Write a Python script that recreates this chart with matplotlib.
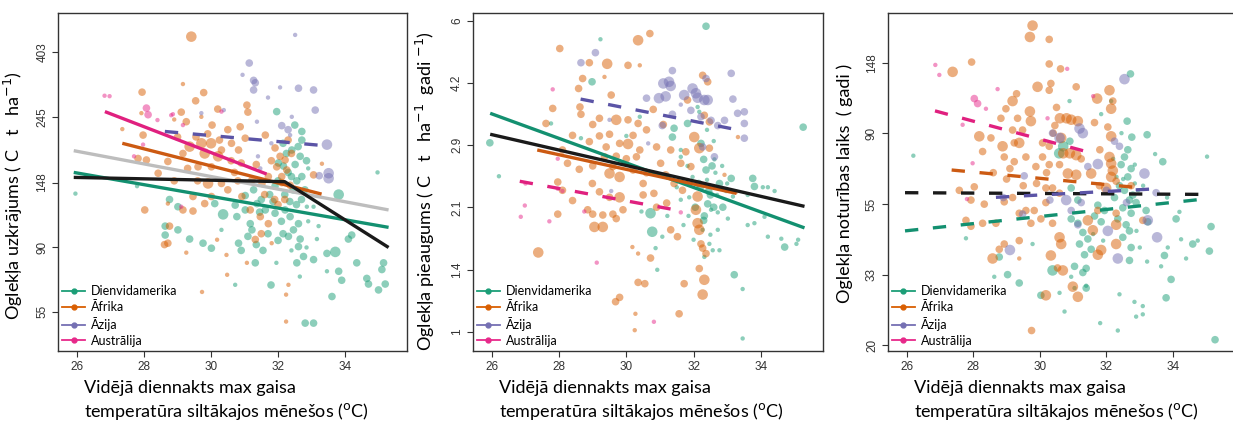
import numpy as np
import matplotlib.pyplot as plt
from matplotlib.lines import Line2D

# region colours (Dark2)
c_sam = "#1b9e77"
c_afr = "#d95f02"
c_asia = "#7570b3"
c_aus = "#e7298a"

regions = ["Dienvidamerika", "Āfrika", "Āzija", "Austrālija"]
xticks = [26, 28, 30, 32, 34]

# ---- panel 1: carbon stock, (temp, stock, size class)
p1_sam = [(25.95,136,1),(27.79,144,1),(28.76,130,2),(29.01,123,2),(28.63,106,2),(28.63,99,2),(29.01,103,2),
          (29.36,96,2),(29.76,93,2),(30.01,89.5,2),(30.11,126,2),(30.36,116,3),(30.31,103,1),
          (31.96,255,2),(32.71,219,2),(32.71,205,2),(32.41,190,2),(32.66,181,2),(32.51,170,2),(32.71,155,2),
          (32.56,150,2),(32.01,172,2),(32.16,168,2),(31.91,144,2),(31.27,140,2),(31.02,134,2),(30.72,124.5,2),
          (30.77,114,2),(31.02,120,2),(31.37,126,2),(31.62,120,2),(31.91,117,2),(32.21,120,2),(32.36,114,2),
          (32.61,108,2),(32.46,103,2),(32.31,98,2),(32.66,96,2),(32.61,90.6,2),(32.76,84,2),(32.56,80,2),
          (33.06,82,2),(33.21,106,1),(33.16,96,1),(32.86,123,1),(33.06,123,1),(33.46,86,2),(33.71,87,3),
          (33.81,135,3),(34.10,96,2),(34.20,99,2),(34.35,80,2),(34.65,71,2),(34.70,68,2),(35.00,65,2),
          (35.20,68,2),(35.15,80,2),(35.10,76,2),(34.97,160,1),(33.61,61.8,2),(33.81,75,2),(33.90,70,2),
          (33.46,75,1),(32.81,50.4,2),(33.06,50.4,2),(31.79,67.5,2),(30.72,67.6,1),(31.32,80,2),(31.17,108,2),
          (31.22,103,2),(30.82,93,2),(32.2,135,2),(32.35,128,2),(32.1,110,2),(32.45,140,2),(32.3,160,2),
          (32.55,125,2),(31.5,130,2),(31.7,100,2),(32.0,95,2),(31.1,98,2),(32.8,140,2),(32.9,165,1),
          (32.4,88,1),(30.9,88,2),(31.35,92,2),(32.15,200,2),(32.5,230,2),(32.25,185,2),(32.6,195,2),
          (32.85,175,2),(32.4,155,2),(32.0,150,2),(31.75,135,2),(31.45,118,2),(31.85,128,2),(32.7,130,2),
          (32.9,110,1),(32.15,100,2),(31.55,88,2),(32.65,72,1),(32.85,90,1),(31.95,80,1)]
p1_afr = [(29.41,453,3),(29.16,315,1),(29.78,295,2),(27.94,296,2),(29.54,277,2),(27.35,223,1),(27.92,252,1),
          (29.11,254,2),(29.26,236,2),(29.71,245,1),(30.03,230,2),(27.97,213,2),(27.82,178,2),(28.07,176,2),
          (28.42,159,2),(28.71,174,2),(29.16,185,2),(29.36,195,3),(29.71,200,3),(29.81,185,3),(29.61,167,2),
          (30.01,167,2),(30.21,181,3),(29.91,147,3),(30.31,147,2),(30.01,133,2),(29.46,133,2),(29.16,120,2),
          (29.46,119,2),(29.81,126,2),(28.71,126,1),(28.02,120,2),(28.76,106,2),(28.71,93,2),(28.61,92,2),
          (29.26,86.5,1),(30.18,95.5,1),(30.46,85,1),(30.48,73,1),(29.73,64,1),(30.31,190,2),(30.50,222,2),
          (30.61,200,2),(31.07,268,2),(31.10,254,2),(30.87,227,2),(31.02,208,2),(30.82,190,2),(31.62,213,2),
          (31.91,193,2),(32.06,181,2),(32.21,176,2),(32.26,163,2),(31.96,167,2),(32.11,155,2),(31.71,155,2),
          (31.52,147,2),(31.22,151,2),(30.92,133,2),(31.17,120,2),(31.47,114,2),(31.71,108,2),(31.32,95.7,2),
          (31.81,93,1),(31.07,80,1),(32.31,67.6,1),(32.24,62.7,1),(32.24,51,1),(33.06,157,2),(33.31,171,1),
          (32.11,148,2),(32.36,145,2),(32.2,130,2),(31.6,135,2),(32.0,125,2),(30.7,160,2),(30.5,140,2),
          (30.9,172,2),(29.0,210,2),(28.9,240,1),(30.2,260,2),(30.0,200,3),(29.55,210,2),(29.9,215,2),
          (30.25,205,2),(29.3,165,2),(28.9,150,2),(29.6,150,2),(30.6,175,2),(30.8,150,2),(31.35,170,2),
          (31.8,175,2),(32.4,185,2),(32.3,205,2),(31.9,130,2),(31.5,100,2)]
p1_asia = [(30.38,258,1),(29.71,252,1),(32.51,459,1),(31.14,370,2),(30.94,338,1),(31.27,324,2),(31.32,318,2),
           (31.27,301,2),(31.70,284,1),(32.06,307,1),(32.61,305,2),(33.06,301,2),(33.11,258,2),(31.37,236,1),
           (32.11,229,2),(32.36,213,1),(33.46,198,3),(33.51,159,3),(33.51,153,3),(33.23,156,2),(31.40,181,1),
           (31.47,165,1),(32.41,245,1),(32.3,222,2),(31.8,200,1)]
p1_aus = [(26.82,288,1),(26.97,287,1),(28.07,262,2),(28.12,249,2),(28.40,239,1),(28.81,248,1),(28.86,250,1),
          (29.16,230,1),(27.70,181,1),(27.97,198,1),(29.11,123,1),(30.31,255,1)]

# fitted lines: (x, y, colour, dashed)
p1_lines = [([28.62, 33.25], [219, 197], "#5b54a6", True),
            ([25.9, 35.3], [189, 120], "#bdbdbd", False),
            ([25.9, 35.3], [160, 105], "#139070", False),
            ([27.35, 33.3], [200, 135.5], "#cc5a12", False),
            ([26.83, 31.66], [255, 158], "#e0207f", False),
            ([25.9, 32.2, 35.3], [154, 149, 90], "#1a1a1a", False)]
p1_ticks = [55, 90, 148, 245, 403]
p1_ticklabels = ["55", "90", "148", "245", "403"]

# ---- panel 2: carbon growth
p2_sam = [(25.94,2.97,2),(26.21,2.45,1),(29.23,5.39,1),(28.98,4.22,2),(27.76,3.32,1),(28.65,3.05,1),(30.0,3.09,1),
          (30.4,3.45,1),(30.45,2.0,1),(32.37,5.81,2),(35.26,3.25,2),(31.82,3.32,2),(31.42,3.23,2),(31.37,3.07,2),
          (32.12,3.65,1),(32.17,3.55,1),(31.62,2.85,1),(32.22,2.96,2),(32.62,2.7,1),(32.37,2.54,2),(32.77,2.35,2),
          (32.97,2.25,1),(33.12,2.42,2),(33.17,2.18,1),(33.76,2.42,2),(33.81,2.31,2),(33.61,2.2,1),(34.06,2.3,1),
          (34.21,2.3,1),(34.41,2.25,1),(34.11,1.94,1),(33.61,1.85,1),(33.81,1.87,1),(34.21,1.73,1),(34.61,1.71,1),
          (34.71,1.63,2),(35.11,1.70,1),(35.06,1.66,1),(30.77,1.78,3),(30.72,1.98,3),(31.22,1.95,1),(31.07,1.73,1),
          (30.87,1.62,1),(30.92,1.43,1),(32.32,1.95,2),(32.42,2.09,2),(32.27,1.80,1),(32.47,1.66,1),(32.32,1.54,1),
          (32.52,2.02,1),(32.72,1.99,1),(32.87,2.05,2),(32.72,1.80,1),(32.57,1.60,1),(32.77,1.60,1),(33.21,1.39,2),
          (33.46,1.28,1),(33.46,0.963,1),(33.02,1.92,1),(31.62,2.74,1),(31.82,2.6,1),(31.62,2.14,1),(31.87,2.17,1),
          (31.97,2.44,1),(32.2,2.3,2),(32.5,2.2,2),(32.05,2.05,2),(31.5,2.3,1),(32.4,2.4,1),(32.65,2.5,1),
          (32.3,2.7,2),(32.55,2.6,2),(32.15,2.35,2),(32.45,2.25,2),(32.6,2.05,2),(32.3,1.9,2),(32.5,1.75,1),
          (32.7,2.2,1),(32.85,2.6,1),(33.0,2.35,1),(31.85,1.95,1),(31.7,1.85,1),(32.0,1.7,1),(32.4,3.2,1),
          (32.6,3.0,1)]
p2_afr = [(28.02,5.11,2),(28.90,4.71,2),(29.43,4.68,3),(30.05,4.64,2),(30.35,5.36,3),(30.40,4.64,1),(28.70,4.30,2),
          (29.35,4.34,1),(28.58,4.06,2),(29.55,3.91,2),(27.81,3.62,2),(28.62,3.65,2),(27.61,3.32,2),(28.65,3.50,2),
          (29.20,3.42,2),(29.70,3.39,3),(30.05,3.39,2),(30.35,3.32,2),(28.90,2.99,2),(29.20,3.09,2),(29.50,3.12,2),
          (29.80,2.96,2),(30.05,2.95,3),(30.40,2.85,2),(29.35,2.74,2),(29.60,2.59,2),(30.00,2.71,2),(30.30,2.74,2),
          (28.10,2.85,2),(28.25,2.64,2),(29.50,2.49,3),(29.80,2.44,3),(30.20,2.54,2),(28.99,2.35,2),(29.20,2.24,2),
          (29.50,2.17,2),(29.80,2.17,3),(29.90,2.02,2),(29.60,1.97,2),(27.96,2.37,2),(28.10,2.26,2),(28.40,2.13,2),
          (28.85,2.02,2),(29.00,1.97,2),(29.30,1.96,2),(29.70,1.92,2),(27.96,1.97,2),(29.05,1.83,3),(29.30,1.83,3),
          (27.38,1.58,3),(30.18,1.63,1),(30.35,1.57,1),(30.35,1.33,2),(30.55,1.32,2),(29.80,1.22,2),(29.68,1.19,2),
          (30.27,1.11,1),(30.25,1.01,1),(30.70,5.57,2),(32.27,4.38,2),(32.42,4.22,2),(31.82,3.80,2),(32.32,3.48,2),
          (32.47,3.35,2),(32.02,3.07,3),(32.17,2.88,3),(32.47,2.88,2),(31.77,2.82,2),(31.32,2.85,2),(31.02,2.64,2),
          (31.62,2.64,2),(31.17,2.47,2),(31.42,2.35,2),(31.67,2.26,2),(30.82,2.22,2),(31.92,2.59,2),(32.12,2.18,3),
          (32.07,2.02,3),(32.12,1.87,3),(32.17,1.80,3),(32.22,1.66,2),(32.27,1.62,2),(32.37,1.57,2),(32.17,1.44,2),
          (32.32,1.35,3),(32.27,1.24,3),(31.72,1.32,2),(31.57,1.11,2),(31.52,1.73,2),(31.32,1.80,2),(30.72,1.53,2),
          (33.27,2.24,1),(33.32,3.07,1),(32.92,2.47,1),(30.6,2.5,2),(30.9,2.9,2),(31.1,3.3,2),(30.8,3.6,2),
          (30.5,2.2,2),(30.9,2.05,2),(29.0,3.3,2),(29.4,2.9,2),(30.2,3.1,2),(30.6,3.2,2),(28.6,2.55,2),
          (29.0,2.6,2),(30.5,2.35,2),(31.2,2.1,2),(29.7,2.75,2),(28.4,3.1,2)]
p2_asia = [(29.08,4.99,2),(28.65,4.71,2),(30.60,3.84,2),(29.50,3.39,1),(29.55,2.25,1),(30.65,2.96,1),(31.37,4.50,2),
           (31.10,4.18,3),(31.27,4.22,3),(31.32,4.12,3),(30.97,3.84,3),(31.17,3.88,3),(31.97,4.06,3),(32.07,3.95,3),
           (32.12,3.85,3),(32.32,3.80,3),(32.42,3.80,3),(31.72,3.91,3),(33.12,4.43,2),(32.37,4.30,2),(33.17,3.82,2),
           (33.31,3.52,2),(33.51,3.55,2),(33.51,3.32,2),(33.51,3.05,2),(32.22,3.45,2),(32.52,3.38,2),(32.72,3.28,2),
           (32.92,3.38,2),(31.92,3.58,2),(31.37,3.50,2),(31.07,3.28,2),(32.62,2.74,2),(32.27,2.90,2),(31.62,3.70,1)]
p2_aus = [(27.81,4.04,1),(27.96,2.71,1),(26.98,2.07,1),(26.86,1.94,1),(27.71,1.89,1),(27.96,2.28,1),(28.75,2.00,1),
          (29.12,1.49,1),(28.1,2.25,1),(30.82,1.06,1),(31.62,1.99,1),(27.0,2.35,1)]

p2_lines = [([28.64, 33.23], [3.82, 3.21], "#5b54a6", True),
            ([26.83, 31.44], [2.38, 2.02], "#e0207f", True),
            ([25.95, 35.3], [3.52, 1.82], "#139070", False),
            ([27.35, 33.28], [2.85, 2.22], "#cc5a12", False),
            ([25.95, 35.3], [3.12, 2.06], "#1a1a1a", False)]
p2_ticks = [1.0, 1.431, 2.048, 2.93, 4.193, 6.0]
p2_ticklabels = ["1", "1.4", "2.1", "2.9", "4.2", "6"]

# ---- panel 3: residence time
p3_sam = [(26.20,76.7,1),(27.78,42.7,1),(29.78,41,1),(28.78,37.4,2),(28.63,32.5,1),(29.03,33,2),(29.38,31.1,2),
          (30.03,28.5,2),(30.38,34,3),(30.58,78,3),(30.7,82,3),(30.9,85,2),(32.72,137,2),(30.89,113,1),
          (31.84,103,1),(32.62,98,2),(33.22,89,2),(33.46,77.6,1),(33.69,73.5,2),(35.02,76.2,1),(32.76,87.5,2),
          (32.64,80,2),(32.54,76,2),(32.44,72,2),(32.74,70,2),(32.64,66,2),(32.39,62,2),(32.54,60,2),(32.24,57,2),
          (32.69,56,2),(32.49,53,2),(32.74,51,2),(32.34,49,2),(32.59,47,2),(32.69,45,2),(32.49,43,2),(32.74,40,2),
          (32.69,36.5,2),(30.94,61,2),(31.14,56,2),(30.94,49,2),(31.14,47.5,2),(31.29,44.5,2),(31.44,42.5,2),
          (31.19,41,2),(31.54,39.5,2),(31.34,38,2),(31.39,34.5,2),(31.29,33.5,2),(31.39,30,2),(31.04,35,2),
          (31.74,54,2),(31.94,52,2),(31.84,48,2),(31.64,50,2),(32.89,55,2),(33.19,52,2),(33.24,48,2),(32.79,58,2),
          (33.74,37.8,2),(33.94,31.9,2),(33.79,28,2),(33.22,36.2,1),(33.64,35,1),(34.19,51.5,1),(34.09,49,2),
          (34.24,42.4,1),(34.39,37,1),(34.59,41,2),(34.74,42,1),(35.09,39,2),(35.14,46.4,2),(35.26,20.8,2),
          (33.84,40,1),(32.84,27.2,1),(32.39,28.7,1),(33.09,26.4,1),(33.09,24.9,1),(32.89,24.5,1),(32.34,22.2,1),
          (31.81,23.4,1),(30.74,25.4,1),(31.04,30,1),(31.39,30.5,1),(30.59,29,1),(30.94,32.5,1),(33.82,57,1),
          (32.14,113,1),(32.3,66,1),(32.85,63,1),(32.95,60,1),(32.5,65,1),(32.2,75,1),(32.45,90,1),(32.85,72,1),
          (33.1,62,1),(31.6,44,1),(31.9,42,1),(32.9,45,1),(33.0,40,1)]
p3_afr = [(29.78,193,3),(29.70,178,3),(30.28,175,2),(27.38,139,3),(27.95,149,2),(30.28,147,2),(30.33,128,2),
          (29.93,125,3),(29.30,119,2),(29.18,113,3),(28.98,107,2),(28.83,100,2),(29.70,105,3),(29.73,98,3),
          (30.28,122,2),(28.18,88,3),(28.53,87,2),(28.88,82,3),(29.33,100,2),(29.18,92,2),(29.48,92,2),(29.38,84,3),
          (30.08,84,2),(30.28,82,2),(28.28,79,2),(29.23,84,2),(28.93,76,2),(29.23,73.5,2),(29.58,76,2),(29.88,71,2),
          (30.08,76,2),(30.28,72,2),(28.03,61.5,2),(28.33,54.4,2),(28.93,55.3,2),(29.18,57,2),(29.38,51,2),
          (29.58,52,2),(29.83,52,2),(30.18,55,2),(29.73,47.5,2),(30.03,49,2),(30.38,47.5,2),(27.78,48.5,2),
          (27.93,46.5,2),(28.28,47.5,2),(28.68,47.5,2),(28.93,41,2),(28.78,39.5,2),(29.38,42,2),(28.58,37,3),
          (29.38,37,1),(30.33,37.8,3),(30.53,34.6,2),(30.18,28.5,3),(29.75,22.2,2),(27.93,56,2),(27.58,60,2),
          (30.18,61,2),(30.38,61,2),(30.62,142,2),(31.09,125,2),(31.72,115,3),(32.09,122,3),(32.19,113,2),
          (32.14,107,3),(30.60,100,3),(30.80,100,3),(30.94,99,3),(31.14,98,3),(31.64,97,2),(32.04,94,2),(32.14,88,3),
          (30.64,87,3),(30.70,78,3),(30.90,78,3),(31.09,77,3),(31.24,75,2),(30.59,72,2),(30.84,67.6,3),(31.09,67,3),
          (31.54,67.6,3),(32.09,76,3),(32.14,72.5,3),(32.19,69,3),(32.14,66,3),(31.79,62,2),(31.99,61,3),
          (32.29,64,2),(32.74,62,2),(30.59,58.8,2),(31.74,52,2),(32.29,51,2),(31.44,48.5,3),(31.59,45.2,3),
          (31.84,39.3,3),(31.74,38,3),(32.29,47,3),(32.29,41,3),(30.59,43,3),(30.64,41,3),(30.69,34,3),(30.99,30.3,3),
          (31.14,28.2,3),(33.09,48.5,2),(30.4,90,2),(30.5,108,2),(31.8,80,2),(29.0,65,2),(29.5,62,2),(29.9,63,2),
          (30.2,68,2),(28.6,68,2),(29.1,70,2),(30.45,95,2)]
p3_asia = [(30.38,90,2),(29.53,66.5,2),(29.48,50.7,2),(29.10,39.3,3),(30.3,56,2),(28.9,57,2),(32.54,132,3),
           (31.19,93,3),(31.29,90,3),(31.74,72.3,3),(31.44,71,2),(32.24,85,2),(32.39,82,2),(33.14,67.6,3),
           (33.49,59,2),(33.24,48.5,3),(33.52,43,3),(32.04,45,3),(32.34,37,3),(31.24,55,2),(30.79,56,3),(30.94,52,2),
           (31.14,47,2),(30.59,87,3),(32.0,60,2),(32.6,55,2)]
p3_aus = [(26.86,146,1),(26.98,136,1),(28.73,123,1),(28.03,115,2),(28.13,111,2),(28.38,107,1),(27.68,95.5,1),
          (27.98,72.7,1),(27.81,56.4,1),(30.23,100,1),(30.82,142,1),(31.6,117,1)]

p3_lines = [([25.95, 34.9], [59.0, 58.3], "#1a1a1a", True),
            ([25.95, 34.86], [45.0, 56.3], "#139070", True),
            ([27.35, 32.86], [69.3, 61.3], "#cc5a12", True),
            ([26.85, 31.41], [105.4, 78.9], "#e0207f", True),
            ([28.68, 33.30], [57.1, 60.5], "#5b54a6", True)]
p3_ticks = [20, 33, 54.4, 89.9, 148]
p3_ticklabels = ["20", "33", "55", "90", "148"]

sizes = {1: 10, 2: 30, 3: 58}
label_font = "Lato"
tick_font = "Liberation Sans"


def panel(ax, pts, lines, ylim, ticks, ticklabels, ylabel, ylab_pos):
    for data, col in zip(pts, [c_sam, c_afr, c_asia, c_aus]):
        arr = np.array(data)
        ax.scatter(arr[:, 0], arr[:, 1], s=[sizes[int(k)] for k in arr[:, 2]],
                   color=col, alpha=0.5, linewidths=0, zorder=2)
    for x, y, col, dashed in lines:
        ax.plot(x, y, color=col, lw=2.4, zorder=3, solid_capstyle="butt",
                dashes=(4.0, 4.4) if dashed else (None, None))
    ax.set_yscale("log")
    ax.set_xlim(25.43, 35.85)
    ax.set_ylim(*ylim)
    ax.set_xticks(xticks)
    ax.set_xticklabels([str(t) for t in xticks], fontfamily=tick_font, fontsize=8.5, color="#333333")
    ax.yaxis.set_minor_locator(plt.NullLocator())
    ax.set_yticks(ticks)
    ax.set_yticklabels(ticklabels, rotation=90, va="center", fontfamily=tick_font,
                       fontsize=8.5, color="#333333")
    ax.tick_params(direction="out", length=4, width=0.8, color="#333333", pad=3)
    for sp in ax.spines.values():
        sp.set_color("#333333")
        sp.set_linewidth(1.0)
    ax.set_ylabel(ylabel, fontfamily=label_font, fontsize=13)
    ax.yaxis.set_label_coords(*ylab_pos)
    ax.text(0.075, -0.108, "Vidējā diennakts max gaisa", transform=ax.transAxes,
            ha="left", va="center", fontfamily=label_font, fontsize=13)
    ax.text(0.075, -0.180, "temperatūra siltākajos mēnešos ($^{\\mathrm{o}}$C)", transform=ax.transAxes,
            ha="left", va="center", fontfamily=label_font, fontsize=13)
    handles = [Line2D([], [], color=c, lw=1.3, marker="o", markersize=3.5) for c in
               [c_sam, c_afr, c_asia, c_aus]]
    ax.legend(handles, regions, loc="lower left", frameon=False, prop={"family": label_font, "size": 9},
              handlelength=1.8, handletextpad=0.5, labelspacing=0.3, borderaxespad=0.25, borderpad=0.1)


fig = plt.figure(figsize=(12.33, 4.24), dpi=100)
W, H = 1233, 424
ax1 = fig.add_axes([58 / W, 1 - 351 / H, 349 / W, 338 / H])
ax2 = fig.add_axes([472.7 / W, 1 - 351 / H, 350.3 / W, 338 / H])
ax3 = fig.add_axes([887.7 / W, 1 - 351 / H, 347 / W, 338 / H])

panel(ax1, [p1_sam, p1_afr, p1_asia, p1_aus], p1_lines, (40.7, 543), p1_ticks, p1_ticklabels,
      "Oglekļa uzkrājums ( C   t   ha$^{-1}$)", (-0.095, 0.46))
panel(ax2, [p2_sam, p2_afr, p2_asia, p2_aus], p2_lines, (0.896, 6.27), p2_ticks, p2_ticklabels,
      "Oglekļa pieaugums ( C   t   ha$^{-1}$  gadi $^{-1}$)", (-0.102, 0.473))
panel(ax3, [p3_sam, p3_afr, p3_asia, p3_aus], p3_lines, (19.2, 211), p3_ticks, p3_ticklabels,
      "Oglekļa noturības laiks  ( gadi )", (-0.100, 0.497))

fig.savefig("out.png", dpi=100)
